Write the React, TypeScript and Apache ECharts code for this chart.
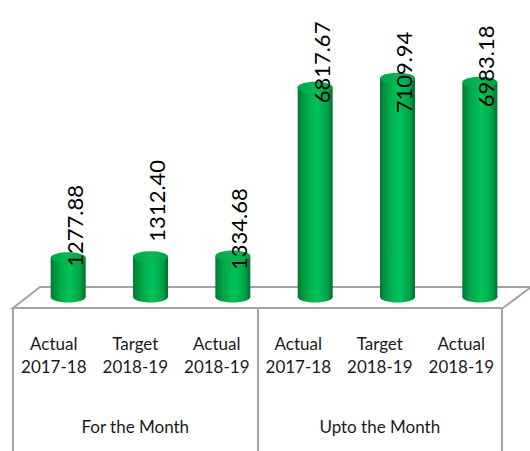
import React, { useEffect, useRef } from "react";
import * as echarts from "echarts";

const periods = ["Actual\n2017-18", "Target\n2018-19", "Actual\n2018-19", "Actual\n2017-18", "Target\n2018-19", "Actual\n2018-19"];
const groups = ["For the Month", "Upto the Month"];
const values = [1277.88, 1312.4, 1334.68, 6817.67, 7109.94, 6983.18];
// label nudges (style only, px below the bar top where the rotated text starts)
const labelShift = [9, -15, 14, 16, 35, 25];

const FONT = "Lato, 'Open Sans', sans-serif";
const GRAY = "#a3a3a3";

export default function App() {
  const ref = useRef<HTMLDivElement>(null);
  useEffect(() => {
    if (!ref.current) return;
    const chart = echarts.init(ref.current, null, { renderer: "svg" });
    const bodyGrad = () =>
      new echarts.graphic.LinearGradient(0, 0, 1, 0, [
        { offset: 0, color: "#007a34" },
        { offset: 0.25, color: "#00a848" },
        { offset: 0.55, color: "#00c45a" },
        { offset: 0.85, color: "#00a246" },
        { offset: 1, color: "#006e2e" },
      ]);
    const option: any = {
      animation: false,
      backgroundColor: "#ffffff",
      grid: [
        { left: 27, right: 9, top: 51, bottom: 154 },
        { left: 13, right: 28, bottom: 143, height: 10 },
      ],
      xAxis: [
        { gridIndex: 0, type: "category", data: values.map((_, i) => i), show: false },
        {
          gridIndex: 1,
          type: "category",
          data: periods,
          axisLine: { show: false },
          axisTick: { show: false },
          axisLabel: { margin: 24, fontSize: 17, lineHeight: 23, color: "#1a1a1a", fontFamily: FONT, interval: 0 },
        },
        {
          gridIndex: 1,
          type: "category",
          data: groups,
          position: "bottom",
          axisLine: { show: false },
          axisTick: { show: true, length: 143, lineStyle: { color: GRAY, width: 2 } },
          axisLabel: { margin: 110, fontSize: 17, color: "#1a1a1a", fontFamily: FONT, interval: 0 },
        },
      ],
      yAxis: [
        { gridIndex: 0, type: "value", min: 0, max: 8000, show: false },
        { gridIndex: 1, type: "value", show: false },
      ],
      graphic: [
        {
          type: "polygon",
          z: 0,
          shape: { points: [[13, 308], [40, 287], [531, 287], [503, 308]] },
          style: { fill: "#ffffff", stroke: GRAY, lineWidth: 2 },
        },
      ],
      series: [
        {
          type: "custom",
          xAxisIndex: 0,
          yAxisIndex: 0,
          z: 5,
          data: values.map((v, i) => [i, v]),
          encode: { x: 0, y: 1 },
          renderItem: (params: any, api: any) => {
            const idx = api.value(0);
            const v = api.value(1);
            const top = api.coord([idx, v]);
            const base = api.coord([idx, 0]);
            const w = 35;
            const rx = w / 2;
            const ry = 5.5;
            const cx = top[0];
            return {
              type: "group",
              children: [
                {
                  type: "ellipse",
                  shape: { cx, cy: base[1], rx, ry },
                  style: { fill: bodyGrad() },
                },
                {
                  type: "rect",
                  shape: { x: cx - rx, y: top[1], width: w, height: base[1] - top[1] },
                  style: { fill: bodyGrad() },
                },
                {
                  type: "ellipse",
                  shape: { cx, cy: top[1], rx, ry },
                  style: {
                    fill: new echarts.graphic.LinearGradient(0, 0, 1, 0, [
                      { offset: 0, color: "#00a44a" },
                      { offset: 0.5, color: "#07b855" },
                      { offset: 1, color: "#00a044" },
                    ]),
                  },
                },
                {
                  type: "text",
                  x: cx + 6,
                  y: top[1] + labelShift[params.dataIndex],
                  rotation: Math.PI / 2,
                  style: {
                    text: values[params.dataIndex].toFixed(2),
                    x: 0,
                    y: 0,
                    fill: "#000000",
                    fontSize: 22,
                    fontFamily: FONT,
                    align: "left",
                    verticalAlign: "middle",
                  },
                },
              ],
            };
          },
        },
      ],
    };
    chart.setOption(option);
    return () => chart.dispose();
  }, []);
  return <div ref={ref} style={{ position: "fixed", left: 0, top: 0, width: 530, height: 451 }} />;
}
